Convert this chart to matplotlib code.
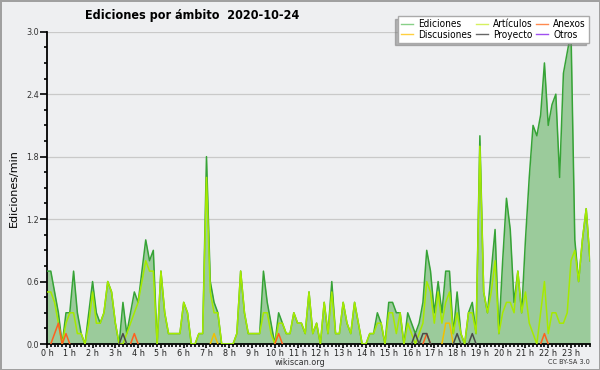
import numpy as np
import matplotlib
matplotlib.use("Agg")
import matplotlib.pyplot as plt
from matplotlib.lines import Line2D

# edits per minute, one value every 10 minutes (144 points, 0 h .. 23:50)
ediciones = [
    0.7, 0.7, 0.5, 0.3, 0.0, 0.3, 0.3, 0.7, 0.3, 0.1, 0.0, 0.3,
    0.6, 0.3, 0.2, 0.3, 0.6, 0.5, 0.2, 0.0, 0.4, 0.1, 0.3, 0.5,
    0.4, 0.7, 1.0, 0.8, 0.9, 0.0, 0.7, 0.3, 0.1, 0.1, 0.1, 0.1,
    0.4, 0.3, 0.0, 0.0, 0.1, 0.1, 1.8, 0.6, 0.4, 0.3, 0.0, 0.0,
    0.0, 0.0, 0.1, 0.7, 0.3, 0.1, 0.1, 0.1, 0.1, 0.7, 0.4, 0.2,
    0.0, 0.3, 0.2, 0.1, 0.1, 0.3, 0.2, 0.2, 0.1, 0.5, 0.1, 0.2,
    0.0, 0.4, 0.1, 0.6, 0.1, 0.1, 0.4, 0.2, 0.1, 0.4, 0.2, 0.0,
    0.0, 0.1, 0.1, 0.3, 0.2, 0.0, 0.4, 0.4, 0.3, 0.3, 0.0, 0.3,
    0.2, 0.1, 0.2, 0.4, 0.9, 0.7, 0.3, 0.6, 0.3, 0.7, 0.7, 0.1,
    0.5, 0.1, 0.0, 0.3, 0.4, 0.1, 2.0, 0.5, 0.3, 0.7, 1.1, 0.1,
    0.8, 1.4, 1.1, 0.4, 0.7, 0.3, 1.0, 1.6, 2.1, 2.0, 2.2, 2.7,
    2.1, 2.3, 2.4, 1.6, 2.6, 2.8, 3.0, 1.0, 0.6, 1.0, 1.3, 0.8,
]
articulos = [
    0.5, 0.5, 0.4, 0.2, 0.0, 0.2, 0.3, 0.3, 0.1, 0.1, 0.0, 0.2,
    0.5, 0.2, 0.2, 0.3, 0.6, 0.5, 0.2, 0.0, 0.0, 0.1, 0.2, 0.3,
    0.4, 0.6, 0.8, 0.7, 0.7, 0.0, 0.7, 0.3, 0.1, 0.1, 0.1, 0.1,
    0.4, 0.3, 0.0, 0.0, 0.1, 0.1, 1.6, 0.5, 0.3, 0.3, 0.0, 0.0,
    0.0, 0.0, 0.1, 0.7, 0.3, 0.1, 0.1, 0.1, 0.1, 0.3, 0.3, 0.1,
    0.0, 0.2, 0.2, 0.1, 0.1, 0.3, 0.2, 0.2, 0.1, 0.5, 0.1, 0.2,
    0.0, 0.4, 0.1, 0.5, 0.1, 0.1, 0.4, 0.2, 0.1, 0.4, 0.2, 0.0,
    0.0, 0.1, 0.1, 0.2, 0.2, 0.0, 0.3, 0.3, 0.1, 0.3, 0.0, 0.2,
    0.1, 0.0, 0.1, 0.2, 0.6, 0.5, 0.2, 0.5, 0.2, 0.4, 0.5, 0.1,
    0.3, 0.1, 0.0, 0.3, 0.3, 0.1, 1.9, 0.5, 0.3, 0.5, 0.8, 0.1,
    0.3, 0.4, 0.4, 0.3, 0.7, 0.3, 0.5, 0.2, 0.1, 0.0, 0.3, 0.6,
    0.1, 0.3, 0.3, 0.2, 0.2, 0.3, 0.8, 0.9, 0.6, 1.0, 1.3, 0.8,
]
# sparse series: (slot index, value)
anexos_idx = [2, 3, 5, 23, 61, 100, 131]
anexos_val = [0.1, 0.2, 0.1, 0.1, 0.1, 0.1, 0.1]
discusiones_idx = [44, 105, 106]
discusiones_val = [0.1, 0.2, 0.2]
proyecto_idx = [20, 97, 99, 100, 108, 112]
proyecto_val = [0.1, 0.1, 0.1, 0.1, 0.1, 0.1]

hour_labels = [f"{h} h" for h in range(24)]

BG = "#eeeff1"
C_ED = "#36a336"
C_FILL = "#9bcb9b"
C_ART = "#a6ea00"
C_ANX = "#ff6020"
C_DIS = "#f2c000"
C_PRO = "#4a4a4a"

COND = dict(family="DejaVu Sans", stretch="condensed")


def sparse(idx, val, n):
    # full series, but hide long zero runs so only the bumps are drawn
    s = np.zeros(n)
    s[idx] = val
    keep = np.zeros(n, dtype=bool)
    for i in idx:
        keep[max(i - 1, 0):min(i + 2, n)] = True
    s[~keep] = np.nan
    return s


n = len(ediciones)
x = np.arange(n)

fig = plt.figure(figsize=(6, 3.7), dpi=100, facecolor=BG,
                 edgecolor="#a0a0a0", linewidth=2)
ax = fig.add_axes([47 / 600, 26 / 370, 543 / 600, 312.3 / 370])
ax.set_facecolor(BG)

ax.fill_between(x, ediciones, color=C_FILL, lw=0, zorder=2)
ax.plot(x, ediciones, color=C_ED, lw=1.1, zorder=3)
ax.plot(x, articulos, color=C_ART, lw=1.1, zorder=4)
ax.plot(x, sparse(anexos_idx, anexos_val, n), color=C_ANX, lw=1.1, zorder=5)
ax.plot(x, sparse(discusiones_idx, discusiones_val, n), color=C_DIS, lw=1.1, zorder=5)
ax.plot(x, sparse(proyecto_idx, proyecto_val, n), color=C_PRO, lw=1.1, zorder=5)

ax.set_xlim(0, n - 1)
ax.set_ylim(0, 3.0)
yt = np.arange(0, 3.01, 0.6)
ax.set_yticks(yt)
ax.set_yticklabels([f"{v:.1f}" for v in yt], **COND)
ax.set_yticks(np.arange(0, 3.01, 0.15), minor=True)
ax.set_xticks(np.arange(0, n, 6))
ax.set_xticklabels(hour_labels, **COND)
ax.set_xticks(x, minor=True)

ax.grid(axis="y", color="#c9c9c9", lw=0.9)
ax.set_axisbelow(True)
for s in ["top", "right"]:
    ax.spines[s].set_visible(False)
for s in ["left", "bottom"]:
    ax.spines[s].set_linewidth(1.3)
ax.tick_params(axis="y", which="major", length=5, width=1.2, labelsize=6.5,
               labelcolor="#333333", pad=1)
ax.tick_params(axis="y", which="minor", length=2.5, width=1.2)
ax.tick_params(axis="x", which="major", length=3, width=1.2, labelsize=6.5,
               labelcolor="#222222", pad=0.5)
ax.tick_params(axis="x", which="minor", length=2.2, width=1.2)

ax.set_ylabel("Ediciones/min", fontsize=8, labelpad=5)

fig.text(85 / 600, 1 - 16 / 370, "Ediciones por ámbito  2020-10-24",
         fontsize=9, fontweight="bold", ha="left", va="center", **COND)
fig.text(300 / 600, 1 - 362.5 / 370, "wikiscan.org", fontsize=6.5,
         ha="center", va="center", color="#333333", **COND)
fig.text(590 / 600, 1 - 362 / 370, "CC BY-SA 3.0", fontsize=5.2,
         ha="right", va="center", color="#333333", **COND)

handles = [
    Line2D([], [], color="#88d088", lw=1),
    Line2D([], [], color="#ffd040", lw=1),
    Line2D([], [], color="#d6f060", lw=1),
    Line2D([], [], color="#666666", lw=1),
    Line2D([], [], color="#ff8a50", lw=1),
    Line2D([], [], color="#a050f0", lw=1),
]
labels = ["Ediciones", "Discusiones", "Artículos", "Proyecto", "Anexos", "Otros"]
fig.legend(handles, labels, loc="upper right",
           bbox_to_anchor=(594 / 600, 1 - 11 / 370), ncol=3,
           prop=dict(size=7.2, **COND),
           frameon=True, fancybox=False, edgecolor="#aaaaaa", framealpha=1,
           handlelength=1.2, handletextpad=0.5, columnspacing=0.4,
           labelspacing=0.05, borderpad=0.3,
           shadow={"ox": -2.5, "oy": -2, "color": "#777777"})

fig.savefig("out.png", dpi=100, facecolor=BG, edgecolor="#a0a0a0")
